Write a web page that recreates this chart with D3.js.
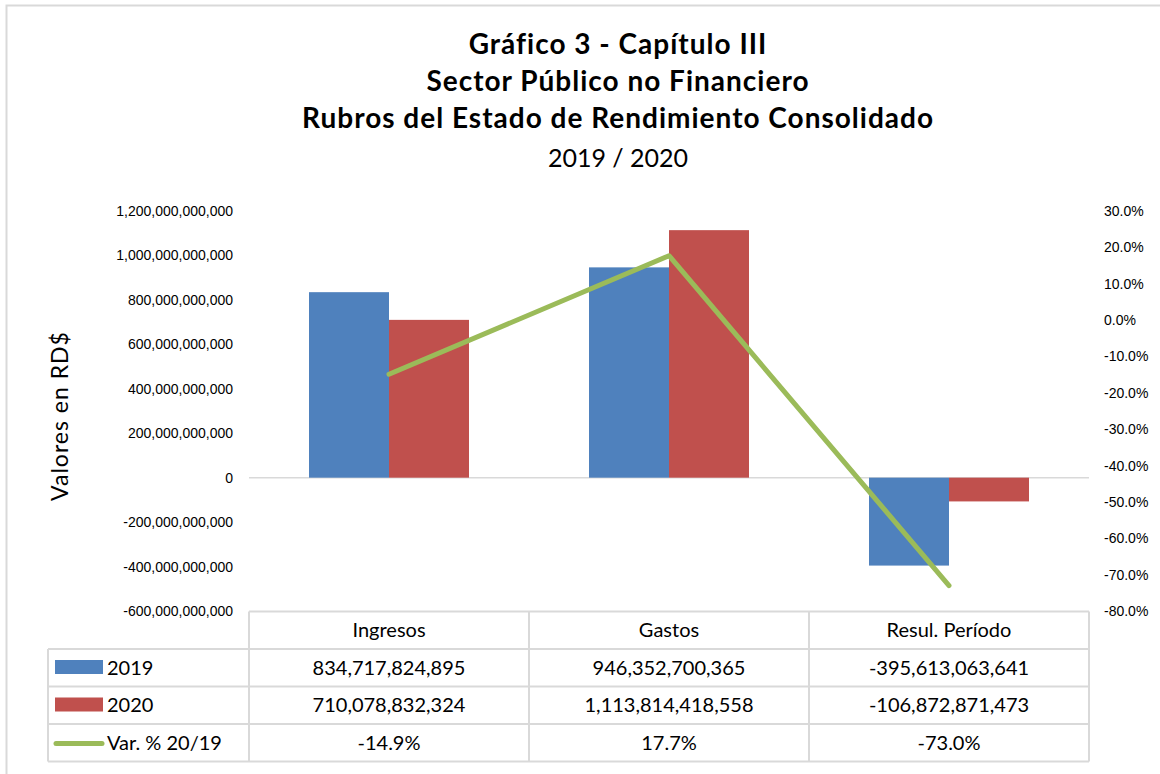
<!DOCTYPE html>
<meta charset="utf-8">
<style>
body { margin: 0; background: #fff; }
svg { font-family: Lato, "Open Sans", sans-serif; }
.axis text { font-size: 14px; fill: #000; }
.axis path, .axis line { display: none; }
.title { font-weight: bold; font-size: 28px; letter-spacing: 1px; text-anchor: middle; }
.subtitle { font-size: 25px; text-anchor: middle; }
.cell-text { font-size: 20px; text-anchor: middle; }
.grid { stroke: #d9d9d9; fill: none; }
</style>
<body>
<svg id="chart" width="1160" height="774"></svg>
<script src="https://cdn.jsdelivr.net/npm/d3@7"></script>
<script>

// data
var categories = ["Ingresos", "Gastos", "Resul. Período"];
var values2019 = [834717824895, 946352700365, -395613063641];
var values2020 = [710078832324, 1113814418558, -106872871473];
var varPct = [-0.149, 0.177, -0.730];
var seriesNames = ["2019", "2020", "Var. % 20/19"];
var leftTicks = [-600e9, -400e9, -200e9, 0, 200e9, 400e9, 600e9, 800e9, 1000e9, 1200e9];
var rightTicks = [-0.8, -0.7, -0.6, -0.5, -0.4, -0.3, -0.2, -0.1, 0, 0.1, 0.2, 0.3];
var titleLines = ["Gráfico 3 - Capítulo III", "Sector Público no Financiero", "Rubros del Estado de Rendimiento Consolidado"];

var colors = { "2019": "#4f81bd", "2020": "#c0504d", "Var. % 20/19": "#9bbb59" };

var loc = d3.formatLocale({ decimal: ".", thousands: ",", grouping: [3], currency: ["$", ""], minus: "-" });
var fmtNum = loc.format(",.0f");
var fmtPct = loc.format(".1%");

var svg = d3.select("#chart");

// outer frame
svg.append("rect")
    .attr("x", 6.5).attr("y", 5.5)
    .attr("width", 1170).attr("height", 790)
    .attr("fill", "none").attr("stroke", "#d9d9d9").attr("stroke-width", 2);

// titles
titleLines.forEach(function(t, i) {
  svg.append("text").attr("class", "title")
    .attr("x", 618).attr("y", 54 + i * 37)
    .text(t);
});
svg.append("text").attr("class", "subtitle")
  .attr("x", 618).attr("y", 167)
  .text("2019 / 2020");

// scales
var x0 = d3.scaleBand().domain(categories).range([249, 1089]);
var x1 = d3.scaleBand().domain(["2019", "2020"]).range([60, 220]);
var y = d3.scaleLinear().domain([-600e9, 1200e9]).range([611, 211]);
var y2 = d3.scaleLinear().domain([-0.8, 0.3]).range([611, 211]);

// left axis
svg.append("g").attr("class", "axis")
  .attr("transform", "translate(237,0)")
  .call(d3.axisLeft(y).tickValues(leftTicks).tickSize(0).tickPadding(4).tickFormat(fmtNum));

// right axis
svg.append("g").attr("class", "axis")
  .attr("transform", "translate(1100,0)")
  .call(d3.axisRight(y2).tickValues(rightTicks).tickSize(0).tickPadding(4).tickFormat(fmtPct));

// y axis title
svg.append("text")
  .attr("transform", "translate(68,416) rotate(-90)")
  .attr("text-anchor", "middle")
  .style("font-size", "23px")
  .style("letter-spacing", "1px")
  .text("Valores en RD$");

// zero line
svg.append("line").attr("class", "grid")
  .attr("x1", x0.range()[0]).attr("x2", x0.range()[1])
  .attr("y1", y(0)).attr("y2", y(0))
  .attr("stroke-width", 1.5);

// bars
var barData = [];
categories.forEach(function(c, i) {
  barData.push({ cat: c, s: "2019", v: values2019[i] });
  barData.push({ cat: c, s: "2020", v: values2020[i] });
});

svg.append("g").selectAll("rect")
  .data(barData)
  .enter().append("rect")
  .attr("x", function(d) { return x0(d.cat) + x1(d.s); })
  .attr("width", x1.bandwidth())
  .attr("y", function(d) { return y(Math.max(0, d.v)); })
  .attr("height", function(d) { return Math.abs(y(d.v) - y(0)); })
  .attr("fill", function(d) { return colors[d.s]; });

// line
var line = d3.line()
  .x(function(d, i) { return x0(categories[i]) + x0.bandwidth() / 2; })
  .y(function(d) { return y2(d); });

svg.append("path")
  .datum(varPct)
  .attr("d", line)
  .attr("fill", "none")
  .attr("stroke", colors["Var. % 20/19"])
  .attr("stroke-width", 5)
  .attr("stroke-linecap", "round")
  .attr("stroke-linejoin", "round");

// data table
var tableTop = 611.5, rowH = 37.5, legendLeft = 48;
var tableRows = [values2019, values2020, varPct];
var grid = svg.append("g").attr("class", "grid").attr("stroke-width", 2);

// horizontal lines
grid.append("line").attr("x1", x0.range()[0]).attr("x2", x0.range()[1])
  .attr("y1", tableTop).attr("y2", tableTop);
for (var r = 1; r <= 4; r++) {
  grid.append("line").attr("x1", legendLeft).attr("x2", x0.range()[1])
    .attr("y1", tableTop + r * rowH).attr("y2", tableTop + r * rowH);
}
// vertical lines
grid.append("line").attr("x1", legendLeft).attr("x2", legendLeft)
  .attr("y1", tableTop + rowH).attr("y2", tableTop + 4 * rowH);
categories.forEach(function(c) {
  grid.append("line").attr("x1", x0(c)).attr("x2", x0(c))
    .attr("y1", tableTop).attr("y2", tableTop + 4 * rowH);
});
grid.append("line").attr("x1", x0.range()[1]).attr("x2", x0.range()[1])
  .attr("y1", tableTop).attr("y2", tableTop + 4 * rowH);

// header
svg.append("g").selectAll("text")
  .data(categories)
  .enter().append("text").attr("class", "cell-text")
  .attr("x", function(d) { return x0(d) + x0.bandwidth() / 2; })
  .attr("y", tableTop + rowH / 2 + 7)
  .text(function(d) { return d; });

// rows
tableRows.forEach(function(vals, r) {
  var rowY = tableTop + (r + 1) * rowH;
  var name = seriesNames[r];
  if (r < 2) {
    svg.append("rect")
      .attr("x", 55).attr("y", rowY + 11)
      .attr("width", 48).attr("height", 14)
      .attr("fill", colors[name]);
  } else {
    svg.append("line")
      .attr("x1", 56).attr("x2", 102)
      .attr("y1", rowY + 19.5).attr("y2", rowY + 19.5)
      .attr("stroke", colors[name]).attr("stroke-width", 5)
      .attr("stroke-linecap", "round");
  }
  svg.append("text")
    .attr("x", 107).attr("y", rowY + rowH / 2 + 7)
    .style("font-size", "20px")
    .text(name);

  svg.append("g").selectAll("text")
    .data(vals)
    .enter().append("text").attr("class", "cell-text")
    .attr("x", function(d, i) { return x0(categories[i]) + x0.bandwidth() / 2; })
    .attr("y", rowY + rowH / 2 + 7)
    .text(function(d) { return r < 2 ? fmtNum(d) : fmtPct(d); });
});

</script>
</body>
